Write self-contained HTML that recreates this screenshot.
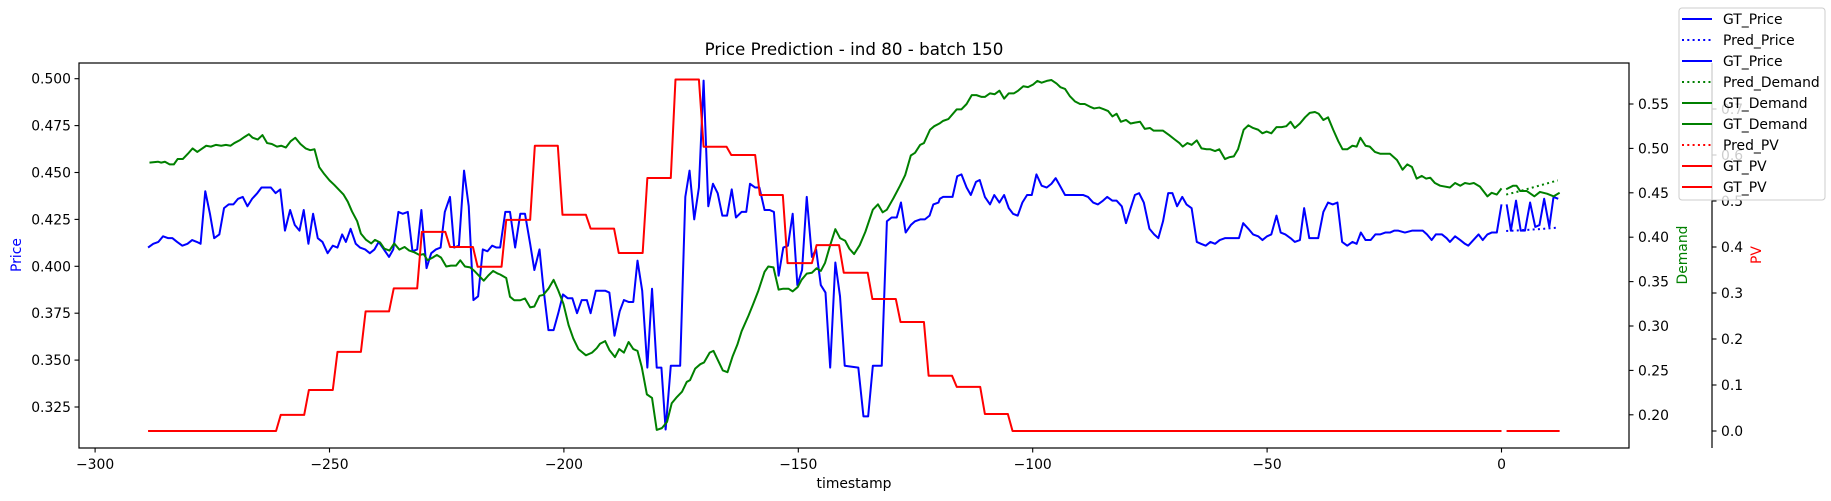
<!DOCTYPE html>
<html><head><meta charset="utf-8"><style>
html,body{margin:0;padding:0;background:#fff;}
svg{display:block;font-family:"DejaVu Sans","Liberation Sans",sans-serif;}
</style></head><body>
<svg id="chart" width="1831" height="501" viewBox="0 0 1831 501" xmlns="http://www.w3.org/2000/svg">
<defs><clipPath id="plotclip"><rect x="79" y="63" width="1550" height="385"/></clipPath></defs>
<text x="854" y="55" font-size="16.7" text-anchor="middle" fill="#000">Price Prediction - ind 80 - batch 150</text>
<g id="plot" clip-path="url(#plotclip)"></g>
<g id="axes"></g>
</svg>
<script>
const xTicks = [-300,-250,-200,-150,-100,-50,0];
const priceTicks = [0.325,0.350,0.375,0.400,0.425,0.450,0.475,0.500];
const demandTicks = [0.20,0.25,0.30,0.35,0.40,0.45,0.50,0.55];
const pvTicks = [0.0,0.1,0.2,0.3,0.4,0.5,0.6,0.7];

const priceGT1 = [[-288.7,.410],[-287.6,.412],[-286.5,.413],[-285.5,.416],[-284.4,.415],[-283.5,.415],[-282.5,.413],[-281.4,.411],[-280.3,.412],[-279.3,.414],[-278.3,.413],[-277.5,.412],[-276.5,.440],[-275.5,.428],[-274.6,.415],[-273.5,.417],[-272.5,.431],[-271.5,.433],[-270.5,.433],[-269.5,.436],[-268.5,.437],[-267.5,.432],[-266.5,.436],[-265.4,.439],[-264.5,.442],[-263.4,.442],[-262.5,.442],[-261.5,.439],[-260.5,.441],[-259.5,.419],[-258.4,.430],[-257.4,.422],[-256.4,.419],[-255.5,.430],[-254.5,.412],[-253.5,.428],[-252.5,.415],[-251.5,.413],[-250.4,.407],[-249.3,.411],[-248.3,.410],[-247.3,.417],[-246.5,.413],[-245.5,.420],[-244.4,.412],[-243.5,.410],[-242.4,.409],[-241.4,.407],[-240.4,.409],[-239.5,.413],[-238.4,.409],[-237.3,.405],[-236.4,.409],[-235.3,.429],[-234.4,.428],[-233.3,.429],[-232.3,.408],[-231.3,.409],[-230.4,.430],[-229.3,.399],[-228.3,.407],[-227.3,.409],[-226.3,.410],[-225.4,.429],[-224.3,.437],[-223.4,.410],[-222.4,.411],[-221.3,.451],[-220.3,.432],[-219.3,.382],[-218.3,.384],[-217.3,.409],[-216.3,.408],[-215.3,.411],[-214.4,.410],
[-213.6,.410],[-212.5,.429],[-211.5,.429],[-210.4,.410],[-209.3,.428],[-208.3,.428],[-207.2,.412],[-206.3,.398],[-205.2,.409],[-204.4,.389],[-203.3,.366],[-202.2,.366],[-201.2,.375],[-200.2,.385],[-199.2,.383],[-198.2,.383],[-197.2,.375],[-196.2,.382],[-195.1,.382],[-194.3,.375],[-193.2,.387],[-191.2,.387],[-190.3,.386],[-189.2,.363],[-188.1,.376],[-187.2,.382],[-186.2,.381],[-185.2,.381],[-184.3,.403],[-183.3,.387],[-182.2,.346],[-181.2,.388],[-180.2,.346],[-179.2,.346],[-178.3,.313],[-177.2,.347],[-175.2,.347],[-174.1,.437],[-173.2,.451],[-172.2,.425],[-171.2,.442],[-170.2,.499],[-169.2,.432],[-168.2,.444],[-167.2,.439],[-166.2,.427],[-165.2,.427],[-164.2,.441],[-163.3,.426],[-162.1,.429],[-161.1,.429],[-160.3,.444],[-159.2,.442],[-158.3,.442],[-157.2,.430],[-156.1,.430],[-155.2,.429],[-154.2,.395],[-153.2,.410],[-152.2,.411],[-151.2,.428],[-150.2,.390],[-149.2,.398],[-148.2,.437],[-147.1,.405],[-146.2,.409],[-145.2,.390],[-144.2,.386],[-143.2,.346],[-142.1,.402],[-141.1,.384],[-140.1,.347],[-137.2,.346],[-136.1,.320],[-135.1,.320],[-134.1,.347],[-132.2,.347],[-131.1,.424],[-130.1,.426],[-129,.426],[-128.1,.434],[-127.1,.418],[-126,.422],[-125.1,.424],[-124,.425],[-123,.425],[-122,.427],[-121.2,.433],[-120.1,.434],
[-119.8,.436],[-119.1,.437],[-118,.437],[-117.1,.437],[-116.1,.448],[-115.2,.449],[-114.1,.442],[-113.2,.438],[-112.1,.445],[-111.3,.446],[-110.2,.437],[-109.1,.433],[-108.2,.438],[-107.1,.434],[-106.1,.438],[-105.1,.431],[-104.2,.428],[-103.2,.427],[-102.2,.434],[-101.2,.438],[-100.2,.438],[-99.2,.449],[-98.1,.443],[-97,.442],[-96,.444],[-95.1,.447],[-94.2,.443],[-93.1,.438],[-89.2,.438],[-88.2,.437],[-87.1,.434],[-86.1,.433],[-85,.435],[-84.1,.437],[-83,.435],[-82.1,.435],[-81,.432],[-80.1,.423],[-79.1,.431],[-78.2,.438],[-77.3,.439],[-76.3,.434],[-75.1,.420],[-74.1,.417],[-73.2,.415],[-72.2,.424],[-71.1,.439],[-70.2,.439],[-69.2,.432],[-68.1,.437],[-67.2,.433],[-66.1,.431],[-65,.413],[-64.1,.412],[-63.1,.411],[-62.1,.413],[-61.1,.412],[-60.1,.414],[-59,.415],[-57.9,.415],[-56.9,.415],[-56,.415],[-55.1,.423],[-54,.420],[-53,.417],[-51.9,.416],[-51,.414],[-50,.416],[-49.1,.417],[-48,.427],[-47.1,.418],[-46.1,.417],[-45,.415],[-44.1,.413],[-43,.414],[-42.1,.431],[-41,.415],[-39.1,.415],[-38,.429],[-37,.434],[-36,.433],[-35,.434],[-34,.413],[-32.9,.411],[-31.8,.413],[-30.9,.412],[-30,.418],[-29,.414],[-27.9,.414],[-26.9,.417],
[-25.9,.417],[-24.8,.418],[-23.8,.418],[-22.9,.419],[-22,.419],[-20.6,.418],[-19.1,.419],[-18.1,.419],[-16.8,.419],[-15.9,.417],[-14.9,.414],[-14,.417],[-12.7,.417],[-11.7,.415],[-11,.413],[-9.9,.416],[-8.8,.414],[-7.8,.412],[-7.1,.411],[-6,.414],[-4.9,.417],[-4,.414],[-3,.417],[-2.1,.418],[-1,.418],[0,.433]];
const priceGT2 = [[1.1,.433],[2,.419],[3.1,.435],[4.1,.419],[5,.419],[6.1,.434],[7.2,.421],[8.1,.422],[9.1,.436],[10.2,.421],[11.1,.437],[12.1,.436]];
const pricePred = [[1,.4188],[4,.4192],[8,.4198],[12,.4206]];

const demandGT1 = [[-288.4,.484],[-286.6,.485],[-285.9,.484],[-285.1,.485],[-284.1,.482],[-283.2,.482],[-282.4,.488],[-281.3,.488],[-280.2,.494],[-279.2,.500],[-278.2,.496],[-277.4,.499],[-276.3,.503],[-275.3,.502],[-274.2,.504],[-273.1,.503],[-272.1,.504],[-271.1,.503],[-270.3,.506],[-269.2,.509],[-268.1,.513],[-267.2,.516],[-266.4,.512],[-265.3,.510],[-264.3,.515],[-263.3,.506],[-262.3,.505],[-261.2,.502],[-260.3,.503],[-259.3,.501],[-258.3,.508],[-257.3,.512],[-256.2,.505],[-255.1,.500],[-254.1,.498],[-253.2,.499],[-252.2,.479],[-251.1,.471],[-250,.464],[-249,.459],[-247.9,.453],[-247,.448],[-246.1,.440],[-245.2,.429],[-244.1,.418],[-243.3,.404],[-242.2,.397],[-241.1,.393],[-240.3,.397],[-239.2,.394],[-238.3,.387],[-237.2,.385],[-236.2,.393],[-235.1,.386],[-234,.389],[-233,.385],[-231.9,.383],[-230.8,.380],[-229.9,.381],[-229.1,.374],[-228,.377],[-227.1,.380],[-226.2,.377],[-225.1,.367],[-224.1,.368],[-223,.368],[-222.1,.374],[-221.1,.367],[-220,.366],[-219.1,.362],[-218,.356],[-217.1,.351],[-216.1,.357],[-215.1,.362],[-214.1,.359],
[-213.6,.358],[-212.3,.354],[-211.5,.333],[-210.6,.329],[-209.3,.329],[-208.3,.331],[-207.2,.321],[-206.3,.322],[-205.2,.334],[-204.4,.335],[-203.3,.342],[-202.2,.352],[-201.2,.340],[-200.1,.325],[-199,.301],[-198,.286],[-196.9,.274],[-195.3,.267],[-194,.270],[-193,.275],[-192.3,.280],[-191.2,.283],[-190.3,.273],[-189.1,.265],[-188.2,.274],[-187.2,.270],[-186.2,.282],[-185.2,.274],[-184.3,.272],[-183.4,.254],[-182.3,.223],[-181.2,.219],[-180.2,.183],[-179.1,.185],[-178,.192],[-177,.213],[-175.9,.220],[-174.8,.226],[-173.8,.237],[-173.1,.239],[-172,.252],[-170.9,.257],[-170.1,.259],[-168.9,.270],[-168.1,.272],[-167.2,.262],[-166.1,.250],[-165.1,.248],[-164,.266],[-163,.279],[-162.1,.294],[-160.6,.312],[-159.6,.325],[-158.5,.340],[-157.2,.361],[-156.4,.367],[-155.3,.366],[-154.2,.341],[-153.2,.342],[-152.1,.342],[-151.2,.339],[-150.1,.344],[-149.3,.352],[-148.2,.359],[-147.1,.360],[-146.1,.365],[-145.2,.362],[-144.3,.371],[-143.2,.391],[-142.1,.409],[-141.1,.399],[-140,.396],[-139.1,.387],[-138.1,.381],[-136.9,.391],[-135.7,.406],[-134.1,.431],[-133,.437],[-132,.428],[-131.1,.431],[-129.7,.444],[-128.3,.458],[-127.2,.470],[-126,.492],[-125.1,.495],[-124,.504],[-123.2,.506],[-121.9,.521],[-121,.525],[-119.9,.528],
[-119.1,.531],[-118,.533],[-116.2,.544],[-115.2,.544],[-114.1,.550],[-113,.560],[-112,.560],[-110.9,.558],[-110.2,.558],[-109.1,.562],[-108.1,.561],[-107.1,.565],[-106.1,.556],[-105.1,.562],[-104,.562],[-103.1,.565],[-102,.570],[-101,.569],[-99.9,.572],[-99,.576],[-98.1,.574],[-97,.576],[-96,.577],[-94.9,.573],[-94.1,.569],[-93.1,.567],[-92.1,.559],[-91,.553],[-89.9,.550],[-88.9,.550],[-87.8,.547],[-86.9,.545],[-85.8,.546],[-84.8,.544],[-83.9,.542],[-83,.536],[-82.1,.539],[-81.2,.530],[-80.1,.532],[-79.1,.528],[-78.2,.529],[-77.1,.530],[-76.1,.522],[-75,.523],[-74.2,.520],[-73.1,.520],[-72.2,.520],[-70.9,.515],[-69.7,.510],[-68.7,.506],[-68,.502],[-67,.506],[-66.1,.504],[-65,.509],[-64,.500],[-62.9,.499],[-62.1,.499],[-61.1,.497],[-60.2,.499],[-59,.488],[-58.1,.490],[-57.1,.491],[-56.2,.499],[-55,.521],[-54,.526],[-53,.523],[-51.9,.521],[-51,.517],[-50.1,.519],[-49.1,.517],[-48,.524],[-46.9,.524],[-45.9,.525],[-45,.530],[-44.1,.523],[-43,.528],[-41.9,.535],[-40.9,.540],[-39.8,.541],[-39,.539],[-38,.532],[-37,.535],[-35.9,.521],[-34.8,.508],[-33.9,.499],[-32.9,.499],[-31.8,.503],[-30.9,.502],[-30.1,.512],[-29,.503],[-28.1,.502],[-27,.496],
[-25.9,.494],[-23.8,.494],[-22.3,.487],[-21.1,.476],[-20.1,.482],[-19.1,.479],[-18.1,.466],[-17,.469],[-16.1,.466],[-15.2,.467],[-14.2,.461],[-13.1,.458],[-11,.456],[-9.9,.461],[-8.8,.458],[-7.8,.461],[-6.8,.460],[-5.9,.461],[-4.6,.457],[-3,.446],[-2.1,.450],[-1,.448],[0,.455]];
const demandGT2 = [[1,.454],[2.5,.458],[3.2,.458],[4,.452],[5.4,.452],[7,.446],[8.2,.451],[9.7,.449],[11.1,.446],[12.4,.450]];
const demandPred = [[1,.448],[4,.452],[8,.458],[12,.464]];

const pvGT1 = [[-288.7,0],[-261.4,0],[-260.4,.035],[-255.4,.035],[-254.4,.089],[-249.3,.089],[-248.3,.172],[-243.3,.172],[-242.3,.26],[-237.3,.26],[-236.3,.31],[-231.3,.31],[-230.3,.433],[-225.3,.433],[-224.3,.40],[-219.4,.40],[-218.4,.357],[-213.3,.357],[-212.3,.459],[-207.2,.459],[-206.2,.62],[-201.3,.62],[-200.3,.47],[-195.3,.47],[-194.3,.44],[-189.3,.44],[-188.3,.387],[-183.2,.387],[-182.2,.55],[-177.2,.55],[-176.2,.764],[-171.2,.764],[-170.2,.618],[-165.3,.618],[-164.3,.60],[-159.2,.60],[-158.2,.513],[-153.3,.513],[-152.3,.365],[-147.1,.365],[-146.1,.404],[-141.3,.404],[-140.3,.344],[-135.2,.344],[-134.2,.287],[-129.2,.287],[-128.2,.237],[-123.2,.237],[-122.2,.12],[-117.2,.12],[-116.2,.096],[-111.2,.096],[-110.2,.037],[-105.3,.037],[-104.3,0],[0,0]];
const pvGT2 = [[1.1,0],[12.4,0]];
const pvPred = [[1.1,0],[12.4,0]];

const xs = t => 1501.5 + t*4.688;
const yP = v => 78.7 + (0.5 - v)*1876;
const yD = v => 104 + (0.55 - v)*888;
const yPV = v => 431 - v*460;
const NS = 'http://www.w3.org/2000/svg';
const plot = document.getElementById('plot');
const axes = document.getElementById('axes');

function mk(tag, attrs, parent){
  const e = document.createElementNS(NS, tag);
  for (const k in attrs) e.setAttribute(k, attrs[k]);
  parent.appendChild(e);
  return e;
}
function line(data, yf, color, dotted, name){
  const d = data.map((p,i)=>(i?'L':'M')+xs(p[0]).toFixed(2)+','+yf(p[1]).toFixed(2)).join('');
  const el = mk('path', {d:d, fill:'none', stroke:color, 'stroke-width':2, 'stroke-linejoin':'round'}, plot);
  if (dotted) el.setAttribute('stroke-dasharray','2 3.3');
  
  
}
line(priceGT1, yP, '#0000ff', false, 'gt-price-line');
line(priceGT2, yP, '#0000ff', false, 'gt-price-line-2');
line(pricePred, yP, '#0000ff', true, 'pred-price-line');
line(demandPred, yD, '#008000', true, 'pred-demand-line');
line(demandGT1, yD, '#008000', false, 'gt-demand-line');
line(demandGT2, yD, '#008000', false, 'gt-demand-line-2');
line(pvPred, yPV, '#ff0000', true, 'pred-pv-line');
line(pvGT1, yPV, '#ff0000', false, 'gt-pv-line');
line(pvGT2, yPV, '#ff0000', false, 'gt-pv-line-2');

const frame = mk('rect', {x:79, y:63, width:1550, height:385, fill:'none', stroke:'#000', 'stroke-width':1.2}, axes);


const pvSpine = mk('line', {x1:1712, y1:63, x2:1712, y2:448, stroke:'#000', 'stroke-width':1.2}, axes);



function txt(s, x, y, anchor, color, size, name, rot){
  const t = mk('text', {x:x, y:y, 'text-anchor':anchor, fill:color, 'font-size':size}, axes);
  if (rot) t.setAttribute('transform', 'rotate(-90 '+x+' '+y+')');
  t.textContent = s;
  
  
  return t;
}
xTicks.forEach(v=>{
  const x = xs(v);
  mk('line', {x1:x, y1:448, x2:x, y2:452.5, stroke:'#000', 'stroke-width':1.1}, axes);
  txt(String(v).replace('-','\u2212'), x, 469, 'middle', '#000', 13.9, 'x-tick-label');
});
priceTicks.forEach(v=>{
  const y = yP(v);
  mk('line', {x1:74.5, y1:y, x2:79, y2:y, stroke:'#000', 'stroke-width':1.1}, axes);
  txt(v.toFixed(3), 71, y+5, 'end', '#000', 13.9, 'price-tick-label');
});
demandTicks.forEach(v=>{
  const y = yD(v);
  mk('line', {x1:1629, y1:y, x2:1633.5, y2:y, stroke:'#000', 'stroke-width':1.1}, axes);
  txt(v.toFixed(2), 1638, y+5, 'start', '#000', 13.9, 'demand-tick-label');
});
pvTicks.forEach(v=>{
  const y = yPV(v);
  mk('line', {x1:1712, y1:y, x2:1716.5, y2:y, stroke:'#000', 'stroke-width':1.1}, axes);
  txt(v.toFixed(1), 1721, y+5, 'start', '#000', 13.9, 'pv-tick-label');
});
txt('timestamp', 854, 488, 'middle', '#000', 13.9, 'x-axis-title');
txt('Price', 21, 255, 'middle', '#0000ff', 13.9, 'price-axis-title', true);
txt('Demand', 1687, 255, 'middle', '#008000', 13.9, 'demand-axis-title', true);
txt('PV', 1761, 255, 'middle', '#ff0000', 13.9, 'pv-axis-title', true);

const leg = mk('g', {}, axes);


mk('rect', {x:1679, y:8, width:146, height:192, rx:3, fill:'rgba(255,255,255,0.8)', stroke:'#cccccc', 'stroke-width':1}, leg);
const legLabels = ['GT_Price','Pred_Price','GT_Price','Pred_Demand','GT_Demand','GT_Demand','Pred_PV','GT_PV','GT_PV'];
const legColors = ['#0000ff','#0000ff','#0000ff','#008000','#008000','#008000','#ff0000','#ff0000','#ff0000'];
const legDotted = [false,true,false,true,false,false,true,false,false];
legLabels.forEach((lab,i)=>{
  const y = 19 + i*21;
  const l = mk('line', {x1:1682, y1:y, x2:1712, y2:y, stroke:legColors[i], 'stroke-width':2}, leg);
  if (legDotted[i]) l.setAttribute('stroke-dasharray','2 3.3');
  const t = mk('text', {x:1723, y:y+5, fill:'#000', 'font-size':13.9}, leg);
  t.textContent = lab;
  
  
});
</script>
</body></html>
